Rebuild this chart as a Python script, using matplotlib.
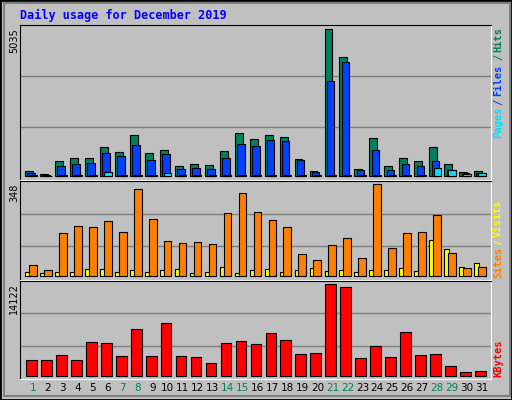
import matplotlib
matplotlib.use('Agg')
import matplotlib.pyplot as plt
from matplotlib.patches import Rectangle
import numpy as np

days = np.arange(1, 32)
weekend = [1, 7, 8, 14, 15, 21, 22, 28, 29]
hits = [160, 70, 503, 606, 606, 984, 812, 1396, 778, 881, 332, 400, 366, 847, 1464,
        1258, 1396, 1327, 572, 160, 5035, 4073, 229, 1293, 332, 606, 503, 984, 400, 126, 160]
files = [92, 46, 332, 400, 435, 778, 675, 1052, 538, 744, 229, 263, 229, 606, 1087,
         1018, 1224, 1190, 538, 126, 3249, 3901, 194, 881, 194, 400, 332, 503, 194, 92, 92]
pages = [20, 10, 50, 50, 50, 126, 20, 20, 20, 92, 20, 20, 20, 50, 20,
         20, 20, 20, 50, 50, 50, 20, 20, 20, 50, 50, 20, 263, 194, 70, 92]
sites = [42, 23, 163, 189, 185, 208, 166, 329, 216, 132, 125, 129, 121, 238, 314,
         242, 212, 185, 83, 61, 117, 144, 68, 348, 106, 163, 166, 231, 87, 30, 34]
visits = [15, 11, 15, 15, 26, 26, 15, 23, 15, 23, 26, 11, 15, 34, 11,
          23, 26, 15, 23, 30, 19, 23, 15, 23, 23, 30, 19, 136, 102, 34, 49]
kbytes = [2371, 2371, 3144, 2371, 5154, 5000, 2989, 7164, 2989, 8092, 2989, 2835, 1907, 5000, 5309,
          4845, 6546, 5463, 3299, 3453, 14122, 13658, 2680, 4536, 2835, 6700, 3144, 3299, 1443, 515, 670]

W, H = 512, 400
bg = '#C0C0C0'
fig = plt.figure(figsize=(W/100, H/100), dpi=100, facecolor=bg)
fig.patches.append(Rectangle((0, 0), 1, 1, transform=fig.transFigure, fill=False,
                             edgecolor='black', lw=2))
fig.patches.append(Rectangle((4/W, 4/H), 1-6/W, 1-7/H, transform=fig.transFigure, fill=False,
                             edgecolor='#808080', lw=1.5))

def mkax(top, bottom, ylim, grid):
    ax = fig.add_axes([20/W, 1-bottom/H, 471/W, (bottom-top)/H], facecolor=bg)
    ax.set_xlim(0.132, 31.59)
    ax.set_ylim(*ylim)
    for g in grid:
        ax.axhline(g, color='#808080', lw=1, zorder=0)
    ax.set_xticks([]); ax.set_yticks([])
    for s in ['top', 'left']:
        ax.spines[s].set_color('black')
    for s in ['bottom', 'right']:
        ax.spines[s].set_color('white')
    return ax

font = 'DejaVu Sans Mono'
kw = dict(align='edge', edgecolor='black', linewidth=0.8)

ax1 = mkax(25, 180, (-137, 5172), [1678, 3425])
ax1.bar(days - 0.53, hits, 0.53, color='#00805C', **kw)
ax1.bar(days - 0.38, files, 0.51, color='#0040FF', **kw)
ax1.bar(days - 0.25, pages, 0.5, color='#00E0FF', **kw)

ax2 = mkax(181, 280, (-14, 360), [113, 237])
ax2.bar(days - 0.53, visits, 0.31, color='#FFFF00', **kw)
ax2.bar(days - 0.27, sites, 0.52, color='#FF8000', **kw)

ax3 = mkax(281, 379, (-510, 14650), [4590, 9640])
ax3.bar(days - 0.47, kbytes, 0.72, color='#FF0000', **kw)

for d in days:
    c = '#00805C' if d in weekend else 'black'
    ax3.text(d, -0.04, str(d), transform=ax3.get_xaxis_transform(), ha='center', va='top',
             color=c, fontsize=7.5, family='DejaVu Sans')

fig.text(20/W, 1-15/H, 'Daily usage for December 2019', color='#0000FF', fontsize=8.5,
         fontweight='bold', family=font, va='center')

for txt, y in [('5035', 28), ('348', 184), ('14122', 283)]:
    fig.text(14/W, 1-y/H, txt, rotation=90, ha='center', va='top', fontsize=7,
             family='DejaVu Sans')

def side(parts):
    for txt, y, c in parts:
        fig.text(498/W, 1-y/H, txt, rotation=90, ha='center', va='center', color=c,
                 fontsize=7.5, family=font, fontweight='bold')

side([('Pages', 122, '#00E0FF'), ('/', 102, '#0040FF'), ('Files', 80, '#0040FF'),
      ('/', 57, '#00805C'), ('Hits', 40, '#00805C')])
side([('Sites', 262, '#FF8000'), ('/', 242, '#FFFF00'), ('Visits', 218, '#FFFF00')])
side([('KBytes', 358, '#FF0000')])

fig.savefig('out.png', dpi=100, facecolor=bg)
